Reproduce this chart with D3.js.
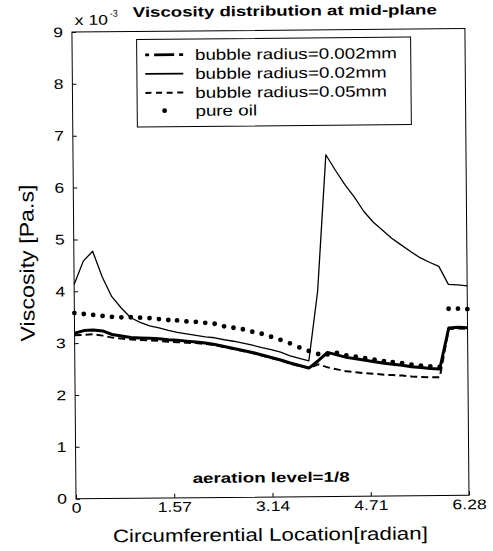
<!DOCTYPE html>
<html>
<head>
<meta charset="utf-8">
<script src="https://cdn.jsdelivr.net/npm/d3@7"></script>
<style>
  html, body { margin: 0; padding: 0; background: #fff; }
  svg { display: block; }
  text { font-family: "Liberation Sans", Arial, Helvetica, sans-serif; fill: #000; }
</style>
</head>
<body>
<svg id="chart" width="493" height="551"></svg>
<script>
// ---------------- data ----------------
const xVals = [0,0.15,0.30,0.45,0.60,0.75,0.90,1.05,1.20,1.35,1.50,1.64,1.79,1.94,2.09,2.24,2.39,2.54,2.69,2.84,2.99,3.14,3.29,3.44,3.59,3.74,3.89,4.04,4.19,4.34,4.49,4.64,4.79,4.94,5.08,5.23,5.38,5.53,5.68,5.83,5.98,6.13,6.28];
const radius0002 = [3.19,3.24,3.25,3.23,3.16,3.13,3.10,3.09,3.08,3.07,3.05,3.04,3.02,3.00,2.98,2.95,2.91,2.87,2.83,2.79,2.74,2.69,2.64,2.58,2.53,2.48,2.62,2.78,2.73,2.68,2.65,2.62,2.59,2.56,2.54,2.52,2.49,2.47,2.45,2.44,3.23,3.24,3.23];
const radius002 = [4.13,4.58,4.77,4.27,3.89,3.67,3.48,3.39,3.32,3.28,3.23,3.19,3.16,3.13,3.10,3.08,3.04,3.01,2.97,2.93,2.88,2.84,2.79,2.72,2.67,2.62,3.96,6.59,6.29,6.01,5.77,5.49,5.28,5.12,4.97,4.84,4.71,4.59,4.50,4.42,4.07,4.06,4.04];
const radius005 = [3.15,3.16,3.17,3.14,3.10,3.08,3.06,3.05,3.04,3.03,3.01,3.00,2.99,2.98,2.96,2.94,2.90,2.86,2.82,2.78,2.73,2.68,2.63,2.57,2.52,2.48,2.55,2.49,2.45,2.41,2.39,2.37,2.36,2.34,2.33,2.32,2.30,2.29,2.28,2.28,3.21,3.22,3.21];
const pureOil = [3.58,3.56,3.54,3.52,3.50,3.49,3.49,3.48,3.47,3.45,3.43,3.42,3.40,3.39,3.37,3.35,3.30,3.27,3.24,3.19,3.15,3.09,3.03,2.96,2.88,2.81,2.75,2.74,2.77,2.72,2.69,2.66,2.63,2.60,2.58,2.56,2.53,2.51,2.49,2.48,3.60,3.60,3.59];
const xTicks = [0, 1.57, 3.14, 4.71, 6.28];
const xTickLabels = ["0", "1.57", "3.14", "4.71", "6.28"];
const yTicks = [0,1,2,3,4,5,6,7,8,9];
const legendLabels = ["bubble radius=0.002mm", "bubble radius=0.02mm", "bubble radius=0.05mm", "pure oil"];
const titleText = "Viscosity distribution at mid-plane";
const xLabelText = "Circumferential Location[radian]";
const yLabelText = "Viscosity [Pa.s]";
const noteText = "aeration level=1/8";

// ---------------- layout ----------------
const L = 76, R = 469, T = 32, B = 498.7;
const svg = d3.select("#chart");
// the reference scan is slightly rotated
const g = svg.append("g").attr("transform", `rotate(-0.5, ${L}, ${B})`);

const x = d3.scaleLinear().domain([0, 6.28]).range([L, R]);
const y = d3.scaleLinear().domain([0, 9]).range([B, T]);

// helper: text stretched to a given width
function wtext(parent, str, tx, ty, size, width, anchor, weight) {
  return parent.append("text")
    .attr("x", tx).attr("y", ty)
    .attr("font-size", size)
    .attr("font-weight", weight || "normal")
    .attr("text-anchor", anchor || "start")
    .attr("textLength", width)
    .attr("lengthAdjust", "spacingAndGlyphs")
    .text(str);
}

// ---------------- series ----------------
const pts = s => xVals.map((v, i) => [v, s[i]]);
const line = d3.line().x(d => x(d[0])).y(d => y(d[1]));

g.append("path").datum(pts(radius002))
  .attr("d", line).attr("fill", "none").attr("stroke", "#000")
  .attr("stroke-width", 1.3).attr("stroke-linejoin", "round");

g.append("path").datum(pts(radius005))
  .attr("d", line).attr("fill", "none").attr("stroke", "#000")
  .attr("stroke-width", 2).attr("stroke-dasharray", "7,4");

g.append("path").datum(pts(radius0002))
  .attr("d", line).attr("fill", "none").attr("stroke", "#000")
  .attr("stroke-width", 3).attr("stroke-linejoin", "round");

g.append("g").selectAll("circle").data(pts(pureOil)).join("circle")
  .attr("cx", d => x(d[0])).attr("cy", d => y(d[1])).attr("r", 2.4).attr("fill", "#000");

// ---------------- axes ----------------
const yAxis = d3.axisLeft(y).tickValues(yTicks).tickFormat(d3.format("d")).tickSize(-4).tickPadding(9);
const yg = g.append("g").attr("transform", `translate(${L},0)`).call(yAxis);
yg.select(".domain").remove();
yg.selectAll("text").attr("font-size", 14).attr("font-family", null)
  .attr("x", -9 / 1.25).attr("transform", "scale(1.25,1)");

const xAxis = d3.axisBottom(x).tickValues(xTicks).tickFormat((d, i) => xTickLabels[i]).tickSize(-4).tickPadding(4);
const xg = g.append("g").attr("transform", `translate(0,${B})`).call(xAxis);
xg.select(".domain").remove();
xg.selectAll("text").attr("font-size", 14).attr("font-family", null)
  .attr("transform", "scale(1.25,1)").attr("x", 0);
g.selectAll(".tick line").attr("stroke", "#000");

// plot box
g.append("rect").attr("x", L).attr("y", T).attr("width", R - L).attr("height", B - T)
  .attr("fill", "none").attr("stroke", "#000").attr("stroke-width", 1);

// ---------------- texts ----------------
wtext(g, titleText, 137, 17.5, 14, 304, "start", "bold");
wtext(g, "x 10", 79, 25, 14, 33, "start");
wtext(g, "-3", 114, 17, 10, 8, "start");
wtext(g, xLabelText, 270, 542.5, 18, 315, "middle");
g.append("text")
  .attr("transform", `translate(36,262.6) rotate(-90)`)
  .attr("font-size", 20).attr("text-anchor", "middle")
  .attr("textLength", 157).attr("lengthAdjust", "spacingAndGlyphs")
  .text(yLabelText);
wtext(g, noteText, 192.8, 484, 14, 157, "start", "bold");

// ---------------- legend ----------------
const lg = g.append("g");
lg.append("rect").attr("x", 140.6).attr("y", 40).attr("width", 274).attr("height", 87.5)
  .attr("fill", "#fff").attr("stroke", "#000").attr("stroke-width", 1);
const rowY = [55.5, 74.5, 93.5, 111.5];
const legendWidths = [202, 191.6, 191.6, 61.6];
const sx0 = 149, sx1 = 187;
// dash-dot
lg.append("line").attr("x1", sx0).attr("x2", sx1).attr("y1", rowY[0]).attr("y2", rowY[0])
  .attr("stroke", "#000").attr("stroke-width", 2.8).attr("stroke-dasharray", "20,5,4,5").attr("stroke-dashoffset", 25);
// solid
lg.append("line").attr("x1", sx0).attr("x2", sx1).attr("y1", rowY[1]).attr("y2", rowY[1])
  .attr("stroke", "#000").attr("stroke-width", 1.8);
// dashed
lg.append("line").attr("x1", sx0).attr("x2", sx1).attr("y1", rowY[2]).attr("y2", rowY[2])
  .attr("stroke", "#000").attr("stroke-width", 2).attr("stroke-dasharray", "6,4.6");
// dot
lg.append("circle").attr("cx", (sx0 + sx1) / 2).attr("cy", rowY[3]).attr("r", 2.4).attr("fill", "#000");
legendLabels.forEach((t, i) => {
  wtext(lg, t, 198.8, rowY[i] + 5.5, 15, legendWidths[i], "start");
});
</script>
</body>
</html>
